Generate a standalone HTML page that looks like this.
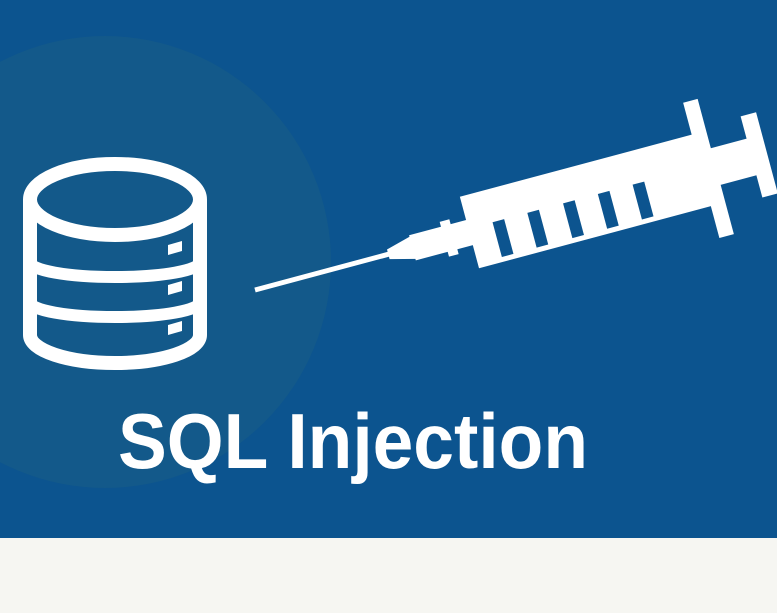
<!DOCTYPE html>
<html><head><meta charset="utf-8"><style>
html,body{margin:0;padding:0;}
body{width:777px;height:608px;overflow:hidden;background:#f6f6f2;}
</style></head><body>
<svg width="777" height="608" viewBox="0 0 777 608" xmlns="http://www.w3.org/2000/svg">
  <defs><clipPath id="c"><rect x="0" y="0" width="777" height="538"/></clipPath></defs>
  <rect x="0" y="0" width="777" height="538" fill="#0c548f"/>
  <g clip-path="url(#c)">
    <circle cx="105" cy="262" r="226" fill="#13598a"/>
  </g>
  <!-- database -->
  <g fill="none" stroke="#fff" stroke-width="14">
    <path d="M30,200 L30,335 A85,28 0 0 0 200,335 L200,200"/>
    <ellipse cx="115" cy="199.5" rx="85" ry="35.5"/>
  </g>
  <g fill="none" stroke="#fff" stroke-width="12">
    <path d="M30,262 A85,15 0 0 0 200,262" />
    <path d="M30,302 A85,15 0 0 0 200,302" />
  </g>
  <g fill="#fff">
    <polygon points="168,245 182,241 182,251 168,255"/>
    <polygon points="168,285 182,281 182,291 168,295"/>
    <polygon points="168,325 182,321 182,331 168,335"/>
  </g>
  <!-- syringe -->
  <g transform="translate(255,290) rotate(-15)" fill="#fff">
    <rect x="0" y="-2.5" width="145" height="5"/>
    <polygon points="138,-5 165,-12 165,12 138,5"/>
    <rect x="163" y="-13" width="62" height="26"/>
    <rect x="196" y="-18" width="10" height="36"/>
    <rect x="222" y="-37" width="242" height="74"/>
    <rect x="462" y="-70" width="15" height="140"/>
    <rect x="475" y="-19" width="42" height="38"/>
    <rect x="514" y="-42" width="16" height="84"/>
    <g fill="#0c548f">
      <rect x="247" y="-4" width="12" height="36"/>
      <rect x="283" y="-4" width="12" height="36"/>
      <rect x="320" y="-4" width="12" height="36"/>
      <rect x="356" y="-4" width="12" height="36"/>
      <rect x="392" y="-4" width="12" height="36"/>
    </g>
  </g>
  <text x="118" y="468" fill="#fff" font-family="Liberation Sans, sans-serif" font-weight="bold" font-size="78" textLength="470" lengthAdjust="spacingAndGlyphs">SQL Injection</text>
</svg>
</body></html>
